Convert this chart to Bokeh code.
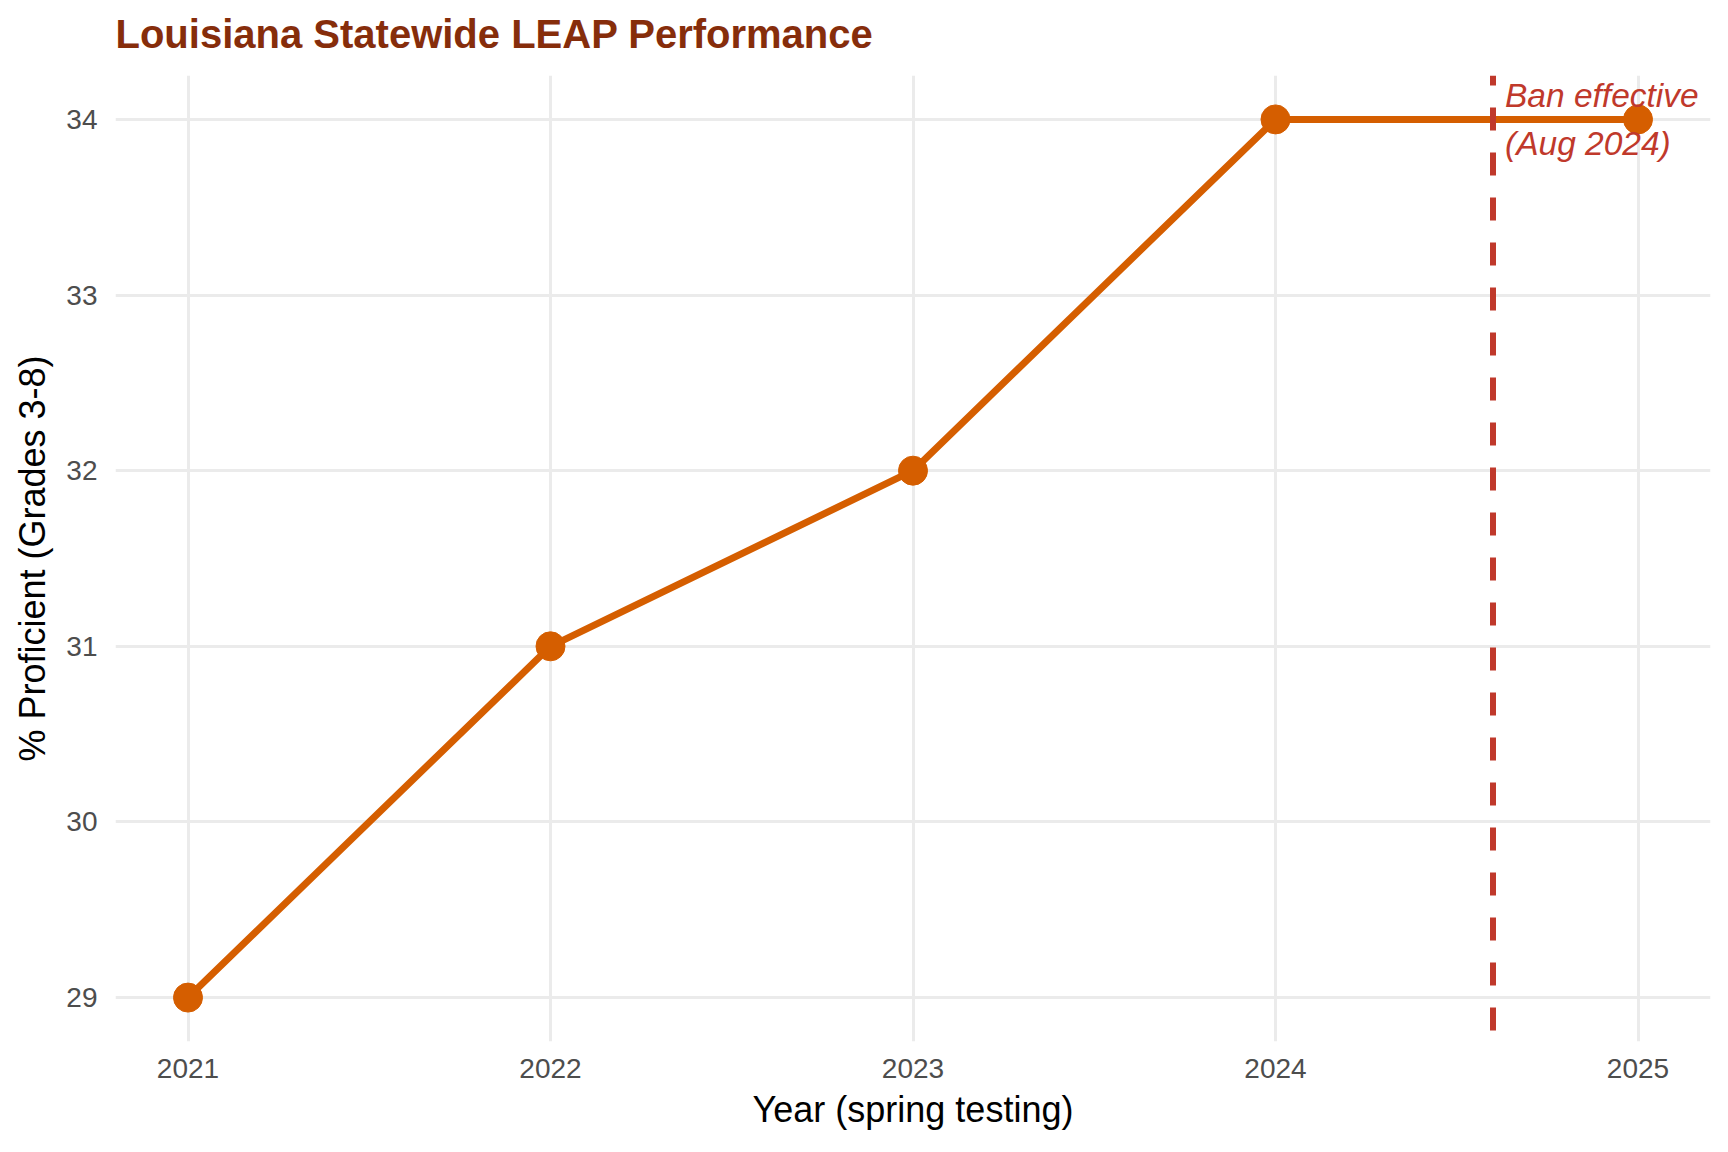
from bokeh.plotting import figure
from bokeh.models import Span, Range1d, FixedTicker, Label
from bokeh.embed import file_html
from bokeh.resources import INLINE

# ---- data ----
years = [2021, 2022, 2023, 2024, 2025]
proficient = [29, 31, 32, 34, 34]
year_ticks = [2021, 2022, 2023, 2024, 2025]
pct_ticks = [29, 30, 31, 32, 33, 34]
ban_date = 2024.6  # August 2024
ban_lines = ["Ban effective", "(Aug 2024)"]
title_text = "Louisiana Statewide LEAP Performance"

FONT = "Liberation Sans"
LINE_COLOR = "#D55E00"
BAN_COLOR = "#C0392B"

x0, x1 = 2020.8, 2025.2
y0, y1 = 28.75, 34.25

p = figure(
    width=1728, height=1164,
    output_backend="svg", toolbar_location=None,
    x_range=Range1d(x0, x1), y_range=Range1d(y0, y1),
    min_border_left=115, min_border_right=18, min_border_top=87, min_border_bottom=111,
    title=title_text,
)
p.margin = (-12, 0, 0, 0)
p.background_fill_color = "white"
p.border_fill_color = "white"
p.outline_line_color = None

p.title.text_font = FONT
p.title.text_font_size = "40px"
p.title.text_font_style = "bold"
p.title.text_color = "#862D0B"
p.title.align = "left"
p.title.offset = 0
p.title.vertical_align = "bottom"
p.title.standoff = 40

for g in (p.xgrid, p.ygrid):
    g.grid_line_color = "#EBEBEB"
    g.grid_line_width = 3

p.xaxis.ticker = FixedTicker(ticks=year_ticks)
p.yaxis.ticker = FixedTicker(ticks=pct_ticks)
p.xaxis.axis_label = "Year (spring testing)"
p.yaxis.axis_label = "% Proficient (Grades 3-8)"
for ax in (p.xaxis, p.yaxis):
    ax.axis_line_color = None
    ax.major_tick_line_color = None
    ax.minor_tick_line_color = None
    ax.major_tick_out = 0
    ax.major_tick_in = 0
    ax.major_label_text_font = FONT
    ax.major_label_text_font_size = "28px"
    ax.major_label_text_color = "#4D4D4D"
    ax.axis_label_text_font = FONT
    ax.axis_label_text_font_size = "36px"
    ax.axis_label_text_font_style = "normal"
    ax.axis_label_text_color = "black"
p.xaxis.major_label_standoff = 17
p.xaxis.axis_label_standoff = 8
p.yaxis.major_label_standoff = 18
p.yaxis.axis_label_standoff = 10

p.line(years, proficient, line_color=LINE_COLOR, line_width=7)
p.scatter(years, proficient, size=29, fill_color=LINE_COLOR, line_color=LINE_COLOR)

p.add_layout(Span(location=ban_date, dimension="height", line_color=BAN_COLOR,
                  line_width=6, line_dash="23 22", line_dash_offset=13))

peak = max(proficient)
for txt, dy in zip(ban_lines, [0.134, -0.138]):
    p.add_layout(Label(x=ban_date, y=peak + dy, x_offset=12, text=txt,
                       text_font=FONT, text_font_size="33.5px", text_font_style="italic",
                       text_color=BAN_COLOR, text_baseline="alphabetic", text_align="left"))

open("out.html", "w").write(file_html(p, INLINE))
